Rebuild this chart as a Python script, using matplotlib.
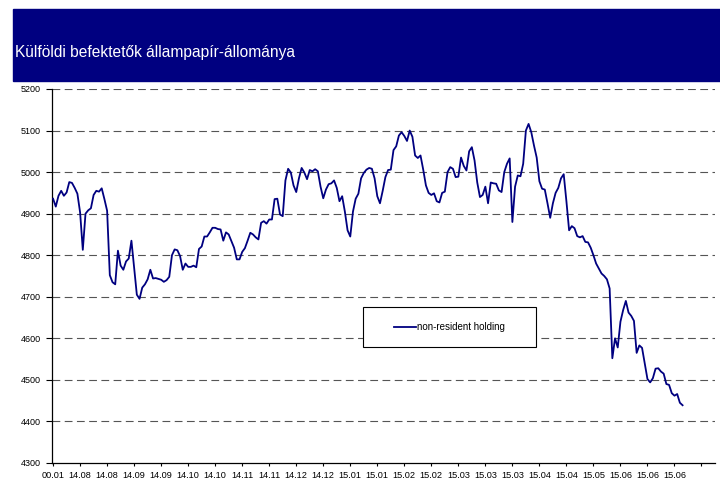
import numpy as np
import matplotlib.pyplot as plt
from matplotlib.patches import Rectangle

# non-resident holding of government securities (HUF bn), one value per business day
holding = [
    4936, 4917, 4943, 4955, 4943, 4951, 4976, 4974, 4962, 4948,
    4903, 4813, 4900, 4908, 4913, 4945, 4955, 4953, 4961, 4935,
    4907, 4752, 4735, 4730, 4811, 4775, 4765, 4785, 4792, 4835,
    4770, 4705, 4695, 4722, 4730, 4742, 4765, 4744, 4745, 4743,
    4741, 4736, 4740, 4748, 4800, 4814, 4812, 4798, 4765, 4780,
    4772, 4772, 4775, 4771, 4815, 4821, 4845, 4845, 4855, 4866,
    4866, 4863, 4862, 4835, 4855, 4850, 4834, 4818, 4790, 4790,
    4808, 4817, 4835, 4854, 4850, 4843, 4838, 4878, 4882, 4876,
    4886, 4886, 4935, 4936, 4898, 4894, 4980, 5008, 4999, 4968,
    4952, 4985, 5010, 4999, 4983, 5005, 5002, 5007, 5002, 4965,
    4937, 4958, 4971, 4973, 4980, 4962, 4930, 4942, 4905, 4860,
    4845, 4905, 4936, 4948, 4985, 4998, 5006, 5010, 5008, 4985,
    4942, 4925, 4955, 4988, 5005, 5006, 5053, 5062, 5088, 5096,
    5087, 5075, 5100, 5085, 5040, 5034, 5040, 5006, 4968, 4950,
    4945, 4949, 4930, 4927, 4950, 4953, 5000, 5012, 5008, 4988,
    4989, 5035, 5015, 5004, 5050, 5060, 5028, 4975, 4940, 4945,
    4965, 4925, 4975, 4973, 4972, 4956, 4952, 5000, 5020, 5033,
    4880, 4965, 4992, 4990, 5020, 5100, 5116, 5096, 5064, 5035,
    4978, 4960, 4958, 4925, 4890, 4925, 4950, 4962, 4985, 4995,
    4930, 4860, 4870, 4865, 4846, 4843, 4846, 4832, 4831, 4818,
    4800, 4780, 4768, 4756, 4750, 4742, 4720, 4552, 4600, 4578,
    4640, 4668, 4690, 4662, 4654, 4642, 4565, 4583, 4577, 4540,
    4502, 4494, 4504, 4527, 4528, 4520, 4515, 4490, 4488, 4468,
    4462, 4466, 4445, 4439,
]

date_labels = ['00.01', '14.08', '14.08', '14.09', '14.09', '14.10', '14.10',
               '14.11', '14.11', '14.12', '14.12', '15.01', '15.01', '15.02',
               '15.02', '15.03', '15.03', '15.03', '15.04', '15.04', '15.05',
               '15.06', '15.06', '15.06', '']
y_ticks = [4300, 4400, 4500, 4600, 4700, 4800, 4900, 5000, 5100, 5200]

title = 'Külföldi befektetők állampapír-állománya'
series_name = 'non-resident holding'

W, H = 720, 483
plt.rcParams['font.family'] = ['Liberation Sans', 'DejaVu Sans']

fig = plt.figure(figsize=(W / 100, H / 100), dpi=100)

# title banner
fig.patches.append(Rectangle((13 / W, 1 - 81 / H), 1 - 13 / W, 72 / H,
                             transform=fig.transFigure, color='#000080', zorder=0))
fig.text(15 / W, 1 - 57 / H, title, color='white', fontsize=11.2,
         va='baseline', ha='left')

ax = fig.add_axes([52 / W, 20 / H, (715 - 52) / W, (463 - 89) / H])

x = np.arange(len(holding))
ax.plot(x, holding, color='#000080', lw=1.3, label=series_name, zorder=3)

ax.set_ylim(4300, 5200)
ax.set_xlim(-0.4, 245)
ax.set_yticks(y_ticks)
ax.set_xticks(np.arange(0, 10 * len(date_labels), 10))
ax.set_xticklabels(date_labels)

for y in y_ticks[1:]:
    ax.axhline(y, color='#555555', lw=0.8, ls=(0, (7, 4)), zorder=1)

ax.spines['top'].set_visible(False)
ax.spines['right'].set_visible(False)
ax.spines['left'].set_linewidth(0.9)
ax.spines['bottom'].set_linewidth(0.9)
ax.tick_params(axis='y', labelsize=6.5, length=4, width=0.8, pad=4)
ax.tick_params(axis='x', labelsize=6.6, length=2.5, width=0.8, pad=3)

# legend box
ax.add_patch(Rectangle((363 / W, 1 - 347 / H), 173 / W, 40 / H,
                       transform=fig.transFigure, facecolor='white',
                       edgecolor='black', lw=0.8, zorder=4, clip_on=False))
ax.legend(loc='center', bbox_to_anchor=(449.5 / W, 1 - 327 / H),
          bbox_transform=fig.transFigure, frameon=False, fontsize=7,
          handlelength=2.3, handletextpad=0.15)

fig.savefig('out.png', dpi=100)
